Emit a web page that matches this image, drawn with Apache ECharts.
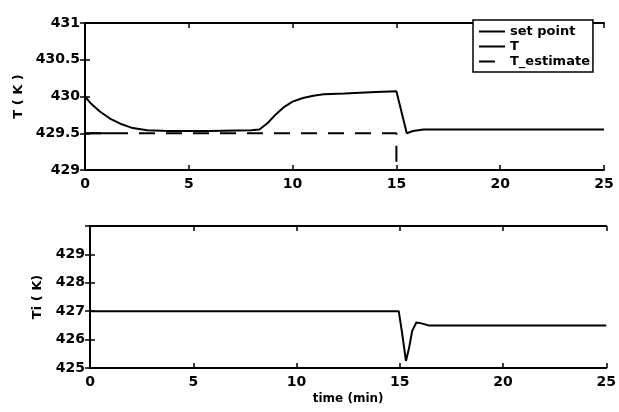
<!DOCTYPE html>
<html>
<head>
<meta charset="utf-8">
<script src="https://cdn.jsdelivr.net/npm/echarts@6/dist/echarts.min.js"></script>
<style>html,body{margin:0;padding:0;background:#fff}#c{width:619px;height:412px}</style>
</head>
<body>
<div id="c"></div>
<script>
// ---- data ----
var xTicks = [0, 5, 10, 15, 20, 25];
var topYTicks = [429, 429.5, 430, 430.5, 431];
var botYTicks = [425, 426, 427, 428, 429, 430];

var setTime = [0, 1.3];
var setValues = [429.5, 429.5];

var tTime = [0, 0.3, 0.7, 1.2, 1.7, 2.3, 3.0, 4, 6, 8, 8.4, 8.8, 9.2, 9.6, 10, 10.5, 11, 11.5, 12.5, 14, 15, 15.5, 15.8, 16.3, 20, 25];
var tValues = [430.0, 429.9, 429.8, 429.7, 429.63, 429.57, 429.54, 429.53, 429.53, 429.54, 429.55, 429.64, 429.76, 429.86, 429.93, 429.98, 430.01, 430.03, 430.04, 430.06, 430.07, 429.5, 429.53, 429.55, 429.55, 429.55];

var estTime = [0, 15, 15];
var estValues = [429.5, 429.5, 429.0];

var tiTime = [0, 5, 10, 14.95, 15.1, 15.3, 15.45, 15.6, 15.8, 16.0, 16.4, 20, 25];
var tiValues = [427, 427, 427, 427, 426.3, 425.25, 425.7, 426.3, 426.6, 426.58, 426.5, 426.5, 426.5];

function pairs(xs, ys) { return xs.map(function (x, i) { return [x, ys[i]]; }); }

var FONT = 'DejaVu Sans';
var lbl = { color: '#000', fontFamily: FONT, fontWeight: 'bold', fontSize: 14 };
var axLine = { show: true, lineStyle: { color: '#000', width: 2 } };
var tick = { show: true, inside: true, length: 5, lineStyle: { color: '#000', width: 1.5 } };

function xAx(grid, pos, showLabels, name) {
  return {
    type: 'value', gridIndex: grid, position: pos, min: 0, max: 25, interval: 5,
    axisLine: axLine, axisTick: tick, splitLine: { show: false },
    axisLabel: Object.assign({ show: showLabels, margin: 7 }, lbl),
    name: name || '', nameLocation: 'middle', nameGap: 25,
    nameTextStyle: { color: '#000', fontFamily: FONT, fontWeight: 'bold', fontSize: 12 }
  };
}
function yAx(grid, pos, min, max, interval, showLabels, name, gap, hideMax) {
  return {
    type: 'value', gridIndex: grid, position: pos, min: min, max: max, interval: interval,
    axisLine: axLine, axisTick: tick, splitLine: { show: false },
    axisLabel: Object.assign({ show: showLabels, margin: 5, showMaxLabel: !hideMax }, lbl),
    name: name || '', nameLocation: 'middle', nameGap: gap || 0, nameRotate: 90,
    nameTextStyle: { color: '#000', fontFamily: FONT, fontWeight: 'bold', fontSize: 13 }
  };
}

function lineSeries(name, xi, yi, xs, ys, dash) {
  return {
    name: name, type: 'line', xAxisIndex: xi, yAxisIndex: yi, data: pairs(xs, ys),
    showSymbol: false, symbol: 'none',
    lineStyle: { color: '#000', width: 2, type: dash || 'solid' }, itemStyle: { color: '#000' }
  };
}

var chart = echarts.init(document.getElementById('c'), null, { renderer: 'canvas' });
chart.setOption({
  animation: false,
  backgroundColor: '#fff',
  grid: [
    { left: 85, top: 23, width: 519, height: 147 },
    { left: 90, top: 226, width: 520, height: 142 }
  ],
  xAxis: [
    xAx(0, 'bottom', true), xAx(0, 'top', false),
    xAx(1, 'bottom', true, 'time (min)'), xAx(1, 'top', false)
  ],
  yAxis: [
    yAx(0, 'left', 429, 431, 0.5, true, 'T ( K )', 58), yAx(0, 'right', 429, 431, 0.5, false),
    yAx(1, 'left', 425, 430, 1, true, 'Ti ( K)', 46, true), yAx(1, 'right', 425, 430, 1, false)
  ],
  legend: {
    data: ['set point', 'T', 'T_estimate'],
    orient: 'vertical', left: 473, top: 20, padding: [5, 3, 4, 5],
    itemWidth: 26, itemHeight: 10, itemGap: 2,
    itemStyle: { opacity: 0 },
    borderColor: '#000', borderWidth: 1.5, backgroundColor: '#fff',
    textStyle: { color: '#000', fontFamily: FONT, fontWeight: 'bold', fontSize: 13 }
  },
  series: [
    lineSeries('set point', 0, 0, setTime, setValues),
    lineSeries('T', 0, 0, tTime, tValues),
    lineSeries('T_estimate', 0, 0, estTime, estValues, [16, 11]),
    lineSeries('Ti', 2, 2, tiTime, tiValues)
  ]
});
</script>
</body>
</html>
